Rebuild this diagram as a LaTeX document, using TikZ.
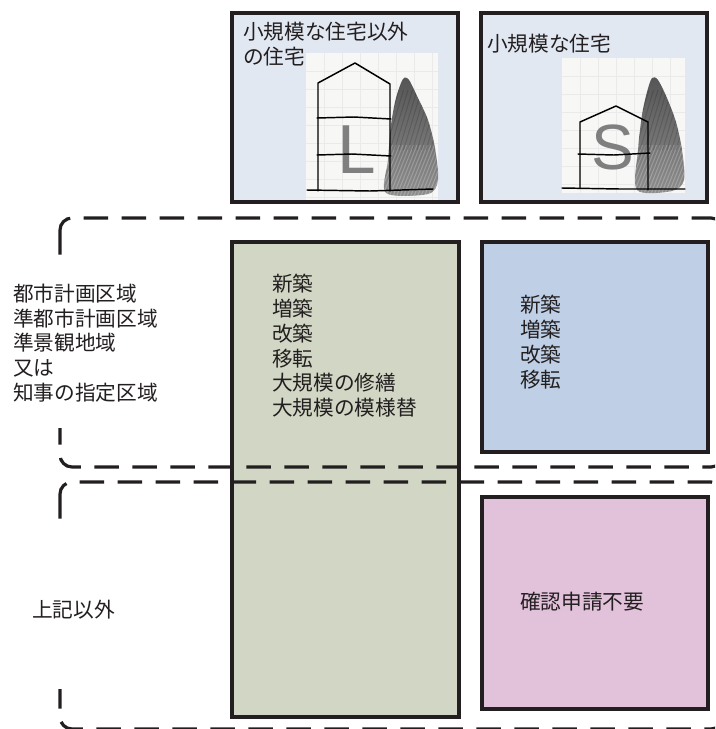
\documentclass[tikz,border=0pt]{standalone}
\usepackage{fontspec}
\newfontfamily\jpfont{Noto Sans CJK JP}
\newfontfamily\letterfont{Liberation Sans}
\usetikzlibrary{positioning}
\definecolor{housebg}{HTML}{E1E8F2}
\definecolor{cellgreen}{HTML}{D1D7C4}
\definecolor{cellblue}{HTML}{BFD0E6}
\definecolor{cellpink}{HTML}{E2C1DA}
\definecolor{inkdark}{HTML}{231F20}
\definecolor{sketchbg}{HTML}{F7F7F6}
\definecolor{sketchgrid}{HTML}{EAEAEA}
\definecolor{treedark}{HTML}{555555}
\definecolor{treelight}{HTML}{8E8E8E}
\definecolor{lettergray}{HTML}{7F7F7F}

\begin{document}
\begin{tikzpicture}[x=0.75pt, y=-0.75pt,
    cell/.style={draw=inkdark, line width=2.3pt},
    zone/.style={draw=inkdark, line width=2.4pt, dash pattern=on 18.5pt off 10pt, rounded corners=9pt},
    jptext/.style={font=\fontsize{15.5}{18.6}\jpfont, text=inkdark, inner sep=0pt, align=left, anchor=north west},
    sketch/.style={line width=1.1pt, black, line join=round, line cap=round},
    bigletter/.style={font=\fontsize{52}{52}\letterfont, text=lettergray, inner sep=0pt}]
  \clip (0,0) rectangle (715,729);

  % house types
  \draw[cell, fill=housebg] (232,13) rectangle (458,202);
  \draw[cell, fill=housebg] (481,13) rectangle (707,202);

  % large house sketch
  \fill[sketchbg] (306,53) rectangle (438,200);
  \foreach \gx in {324,342,...,432} \draw[sketchgrid, line width=0.4pt] (\gx,53) -- (\gx,200);
  \foreach \gy in {71,89,...,197} \draw[sketchgrid, line width=0.4pt] (306,\gy) -- (438,\gy);
  \shade[top color=treedark, bottom color=treelight] plot[smooth cycle, tension=0.5]
    coordinates {(386,193) (388,160) (391,125) (396,98) (403,79) (409,80) (418,98) (428,120) (435,148) (438,180) (428,194)};
  \begin{scope}
    \clip plot[smooth cycle, tension=0.5]
      coordinates {(386,193) (388,160) (391,125) (396,98) (403,79) (409,80) (418,98) (428,120) (435,148) (438,180) (428,194)};
    \foreach \t in {0,...,30} \draw[white, opacity=0.22, line width=0.8pt] (360+\t*3.5,200) -- ++(22,-55);
    \foreach \t in {0,...,24} \draw[black, opacity=0.15, line width=0.7pt] (372+\t*4.5,150) -- ++(18,-60);
  \end{scope}
  \node[bigletter] (letterL) at (357,150) {L};
  \draw[sketch] (318,191) -- (318,83) -- (355,63) -- (390,84) -- (390,191);
  \draw[sketch] (317,118) -- (354,117) -- (391,119);
  \draw[sketch] (317,155) -- (352,154) -- (391,156);
  \draw[sketch] (307,190) -- (370,191) -- (433,189);

  % small house sketch
  \fill[sketchbg] (562,58) rectangle (685,193);
  \foreach \gx in {580,598,...,680} \draw[sketchgrid, line width=0.4pt] (\gx,58) -- (\gx,193);
  \foreach \gy in {76,94,...,190} \draw[sketchgrid, line width=0.4pt] (562,\gy) -- (685,\gy);
  \shade[top color=treedark, bottom color=treelight] plot[smooth cycle, tension=0.5]
    coordinates {(637,190) (638,150) (642,115) (647,92) (652,78) (658,80) (667,98) (676,122) (682,150) (684,180) (672,191)};
  \begin{scope}
    \clip plot[smooth cycle, tension=0.5]
      coordinates {(637,190) (638,150) (642,115) (647,92) (652,78) (658,80) (667,98) (676,122) (682,150) (684,180) (672,191)};
    \foreach \t in {0,...,28} \draw[white, opacity=0.22, line width=0.8pt] (610+\t*3.5,200) -- ++(22,-55);
    \foreach \t in {0,...,22} \draw[black, opacity=0.15, line width=0.7pt] (622+\t*4.5,150) -- ++(18,-60);
  \end{scope}
  \node[bigletter, font=\fontsize{48}{48}\letterfont] (letterS) at (613,147) {S};
  \draw[sketch] (580,188) -- (580,122) -- (616,106) -- (648,122) -- (648,190);
  \draw[sketch] (578,154) -- (614,155) -- (650,153);
  \draw[sketch] (562,188) -- (620,189) -- (685,189);

  % permission cells
  \draw[cell, fill=cellgreen] (232,242) rectangle (459,717);
  \draw[cell, fill=cellblue] (482,242) rectangle (708,452);
  \draw[cell, fill=cellpink] (482,497) rectangle (708,709);

  % area bands
  \draw[zone] (60,218) rectangle (723,467);
  \draw[zone] (60,482) rectangle (723,729);

  \node[jptext] (bigtitle) at (243,22) {小規模な住宅以外\\の住宅};
  \node[jptext] (smalltitle) at (487,34) {小規模な住宅};
  \node[jptext] (worksL) at (272,274) {新築\\増築\\改築\\移転\\大規模の修繕\\大規模の模様替};
  \node[jptext] (worksS) at (520,295) {新築\\増築\\改築\\移転};
  \node[jptext, anchor=west] (exempt) at (520,602) {確認申請不要};
  \node[jptext, anchor=west, fill=white, minimum height=127pt] (cityarea) at (13,343)
    {都市計画区域\\準都市計画区域\\準景観地域\\又は\\知事の指定区域};
  \node[jptext, anchor=west, fill=white, minimum height=118pt] (otherarea) at (32,610) {上記以外};
\end{tikzpicture}
\end{document}
